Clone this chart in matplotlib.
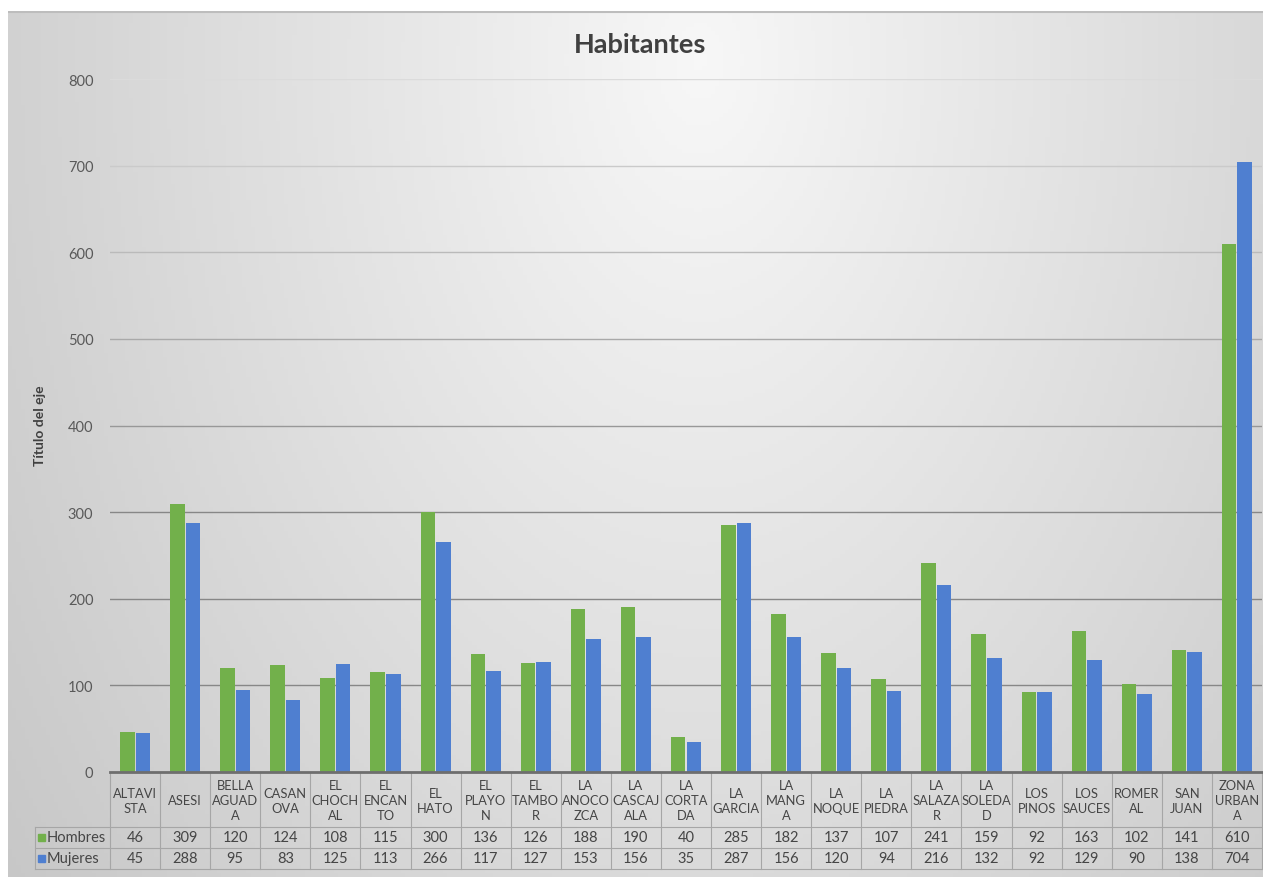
import numpy as np
import matplotlib.pyplot as plt
from matplotlib import transforms

plt.rcParams['font.family'] = ['Lato', 'DejaVu Sans']

categorias = ['ALTAVI\nSTA', 'ASESI', 'BELLA\nAGUAD\nA', 'CASAN\nOVA', 'EL\nCHOCH\nAL',
              'EL\nENCAN\nTO', 'EL\nHATO', 'EL\nPLAYO\nN', 'EL\nTAMBO\nR', 'LA\nANOCO\nZCA',
              'LA\nCASCAJ\nALA', 'LA\nCORTA\nDA', 'LA\nGARCIA', 'LA\nMANG\nA', 'LA\nNOQUE',
              'LA\nPIEDRA', 'LA\nSALAZA\nR', 'LA\nSOLEDA\nD', 'LOS\nPINOS', 'LOS\nSAUCES',
              'ROMER\nAL', 'SAN\nJUAN', 'ZONA\nURBAN\nA']
hombres = [46, 309, 120, 124, 108, 115, 300, 136, 126, 188, 190, 40, 285, 182, 137,
           107, 241, 159, 92, 163, 102, 141, 610]
mujeres = [45, 288, 95, 83, 125, 113, 266, 117, 127, 153, 156, 35, 287, 156, 120,
           94, 216, 132, 92, 129, 90, 138, 704]
series = ['Hombres', 'Mujeres']
colores = ['#72b04b', '#4f7fd0']
yticks = [0, 100, 200, 300, 400, 500, 600, 700, 800]

W, H = 1263, 878
fig = plt.figure(figsize=(W / 100, H / 100), dpi=100)
fig.patch.set_facecolor('white')

def fy(p):
    return 1 - p / H

def fx(p):
    return p / W

# chart area background (radial-ish gray gradient)
bg = fig.add_axes([fx(8), 0, 1 - fx(8), fy(12)])
gx, gy = np.meshgrid(np.linspace(8, W, 300), np.linspace(12, H, 220))
r = np.sqrt(((gx - 700) / 650) ** 2 + ((gy - 60) / 1000) ** 2)
val = np.clip(0.97 - 0.14 * r, 0.78, 1)
bg.imshow(np.dstack([val, val, val]), extent=[0, 1, 0, 1], aspect='auto', origin='upper')
bg.set_xlim(0, 1)
bg.set_ylim(0, 1)
bg.axis('off')
bg.plot([0, 1], [0.999, 0.999], color='#bdbdbd', lw=1.5)

ax = fig.add_axes([fx(110), fy(773), fx(1262) - fx(110), fy(80) - fy(773)])
ax.patch.set_alpha(0)
n = len(categorias)
x = np.arange(n)
w = 0.29
ax.bar(x - w / 2 - 0.01, hombres, w, color=colores[0], zorder=3)
ax.bar(x + w / 2 + 0.01, mujeres, w, color=colores[1], zorder=3)
ax.set_xlim(-0.5, n - 0.5)
ax.set_ylim(0, 800)
ax.set_yticks(yticks)
ax.set_xticks([])
for t in yticks[1:]:
    g = 0.53 + 0.33 * max(t - 300, 0) / 500
    ax.axhline(t, color=(g, g, g), lw=1, zorder=1)
for s in ['top', 'right', 'left']:
    ax.spines[s].set_visible(False)
ax.spines['bottom'].set_color('#6e6e6e')
ax.spines['bottom'].set_linewidth(2)
ax.spines['bottom'].set_zorder(4)
ax.tick_params(axis='y', length=0, pad=12, labelsize=10.5, labelcolor='#595959')

fig.text(0.507, fy(45), 'Habitantes', ha='center', va='center', fontsize=19.5,
         fontweight='bold', color='#404040')
fig.text(fx(40), fy(426), 'Título del eje', rotation=90, ha='center', va='center',
         fontsize=10, fontweight='bold', color='#404040')

# data table below the axis
tr = transforms.blended_transform_factory(ax.transData, fig.transFigure)
linea = '#a6a6a6'
y_cat, y_h, y_m, y_fin = 773, 828, 849, 870
for i in range(n + 1):
    ax.plot([i - 0.5, i - 0.5], [fy(y_cat), fy(y_fin)], color=linea, lw=0.8,
            transform=tr, clip_on=False)
for yy in [y_h, y_m, y_fin]:
    fig.add_artist(plt.Line2D([fx(35), fx(1262)], [fy(yy), fy(yy)], color=linea, lw=0.8))
fig.add_artist(plt.Line2D([fx(35), fx(35)], [fy(y_h), fy(y_fin)], color=linea, lw=0.8))
for i in range(n):
    ax.text(i, fy((y_cat + y_h) / 2 + 1), categorias[i], transform=tr, ha='center',
            va='center', fontsize=9.3, color='#454545', linespacing=1.3)
    ax.text(i, fy((y_h + y_m) / 2), str(hombres[i]), transform=tr, ha='center',
            va='center', fontsize=10.5, color='#454545')
    ax.text(i, fy((y_m + y_fin) / 2), str(mujeres[i]), transform=tr, ha='center',
            va='center', fontsize=10.5, color='#454545')
for k, (nombre, c) in enumerate(zip(series, colores)):
    yc = fy((y_h + y_m) / 2 + k * 21)
    fig.add_artist(plt.Rectangle((fx(38), yc - 3.5 / H), 7 / W, 7 / H, color=c))
    fig.text(fx(47), yc, nombre, ha='left', va='center', fontsize=10.5, color='#454545')

fig.savefig('out.png', dpi=100)
